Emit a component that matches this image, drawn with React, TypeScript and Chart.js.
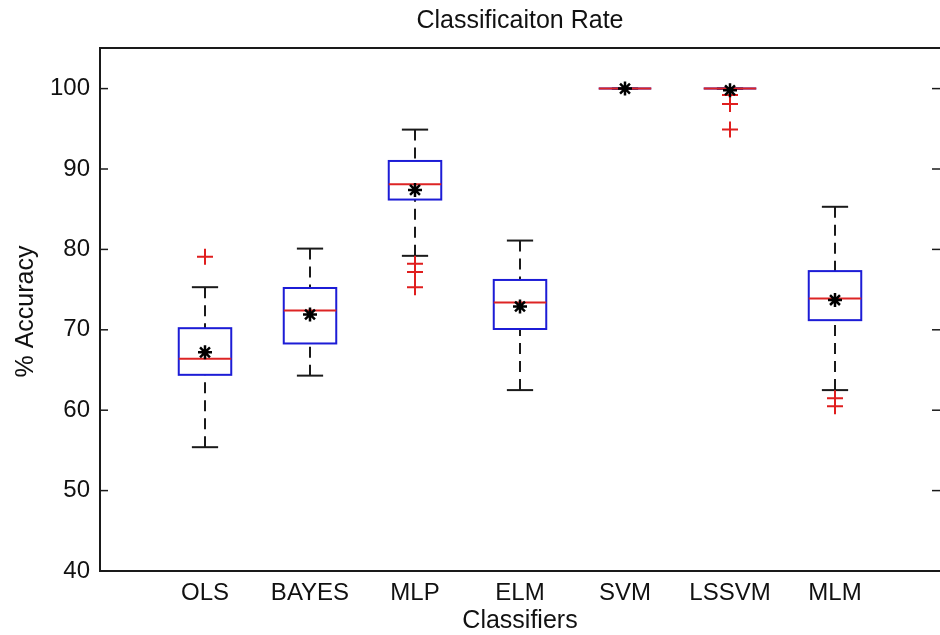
import { useEffect, useRef } from 'react';
import { Chart, registerables } from 'chart.js';

Chart.register(...registerables);

// Box-plot summary of classification accuracy per classifier
const categories = ['OLS', 'BAYES', 'MLP', 'ELM', 'SVM', 'LSSVM', 'MLM'];
const whiskerLow = [55.4, 64.3, 79.2, 62.5, 100, 100, 62.5];
const q1 = [64.4, 68.3, 86.2, 70.1, 100, 100, 71.2];
const medians = [66.4, 72.4, 88.1, 73.4, 100, 100, 73.9];
const q3 = [70.2, 75.2, 91.0, 76.2, 100, 100, 77.3];
const whiskerHigh = [75.3, 80.1, 94.9, 81.1, 100, 100, 85.3];
const means = [67.2, 71.9, 87.4, 72.9, 100, 99.8, 73.7];
const outliers: number[][] = [
  [79.1],
  [],
  [78.2, 77.2, 75.3],
  [],
  [],
  [99.2, 98.1, 94.9],
  [61.5, 60.5],
];
const yTicks = [40, 50, 60, 70, 80, 90, 100];

const FONT = '"Liberation Sans", Arial, Helvetica, sans-serif';
const BOX_HALF = 0.25;
const CAP_HALF = 0.125;

function seg(ctx: CanvasRenderingContext2D, x1: number, y1: number, x2: number, y2: number) {
  ctx.beginPath();
  ctx.moveTo(x1, y1);
  ctx.lineTo(x2, y2);
  ctx.stroke();
}

const boxPlugin = {
  id: 'boxes',
  beforeDatasetsDraw(chart: any) {
    const { ctx, scales } = chart;
    const x = scales.x;
    const y = scales.y;
    ctx.save();
    categories.forEach((_, i) => {
      const pos = i + 1;
      const cx = x.getPixelForValue(pos);
      const bl = x.getPixelForValue(pos - BOX_HALF);
      const br = x.getPixelForValue(pos + BOX_HALF);
      const cl = x.getPixelForValue(pos - CAP_HALF);
      const cr = x.getPixelForValue(pos + CAP_HALF);
      const yLo = y.getPixelForValue(whiskerLow[i]);
      const yQ1 = y.getPixelForValue(q1[i]);
      const yMed = y.getPixelForValue(medians[i]);
      const yQ3 = y.getPixelForValue(q3[i]);
      const yHi = y.getPixelForValue(whiskerHigh[i]);

      // dashed whiskers
      ctx.strokeStyle = '#1a1a1a';
      ctx.lineWidth = 2;
      ctx.setLineDash([11, 7]);
      if (yHi < yQ3) seg(ctx, cx, yHi, cx, yQ3);
      if (yLo > yQ1) seg(ctx, cx, yLo, cx, yQ1);
      ctx.setLineDash([]);
      // whisker caps
      seg(ctx, cl, yHi, cr, yHi);
      seg(ctx, cl, yLo, cr, yLo);

      // box
      ctx.strokeStyle = '#1c1cd6';
      ctx.lineWidth = 2;
      ctx.strokeRect(bl, yQ3, br - bl, yQ1 - yQ3);

      // median
      ctx.strokeStyle = '#dd2424';
      ctx.lineWidth = 2;
      seg(ctx, bl, yMed, br, yMed);
    });
    ctx.restore();
  },
  afterDraw(chart: any) {
    const { ctx, chartArea, scales, width } = chart;
    const y = scales.y;
    const { left, right, top, bottom } = chartArea;
    ctx.save();
    // axes frame: the right edge falls past the visible page width
    ctx.strokeStyle = '#1a1a1a';
    ctx.lineWidth = 2;
    seg(ctx, left, top, width, top);
    seg(ctx, left, bottom, width, bottom);
    seg(ctx, left, top - 1, left, bottom + 1);
    // inward y tick marks on both sides
    ctx.lineWidth = 1.5;
    yTicks.forEach((v) => {
      const py = y.getPixelForValue(v);
      seg(ctx, left, py, left + 8, py);
      seg(ctx, right - 8, py, right, py);
    });

    ctx.fillStyle = '#111';
    ctx.font = `25px ${FONT}`;
    ctx.textAlign = 'center';
    ctx.textBaseline = 'alphabetic';
    const midX = (left + right) / 2;
    ctx.fillText('Classificaiton Rate', midX, 28);
    ctx.fillText('Classifiers', midX, 628);

    ctx.translate(33, (top + bottom) / 2 + 2);
    ctx.rotate(-Math.PI / 2);
    ctx.fillText('% Accuracy', 0, 0);
    ctx.restore();
  },
};

export default function App() {
  const canvasRef = useRef<HTMLCanvasElement | null>(null);

  useEffect(() => {
    const canvas = canvasRef.current;
    if (!canvas) return;
    const chart = new Chart(canvas, {
      type: 'scatter',
      data: {
        datasets: [
          {
            label: 'Mean',
            data: means.map((m, i) => ({ x: i + 1, y: m })),
            pointStyle: 'star',
            radius: 7,
            borderColor: '#000',
            backgroundColor: '#000',
            borderWidth: 2.5,
          },
          {
            label: 'Outliers',
            data: outliers.flatMap((arr, i) => arr.map((v) => ({ x: i + 1, y: v }))),
            pointStyle: 'cross',
            radius: 8,
            borderColor: '#e01e1e',
            backgroundColor: '#e01e1e',
            borderWidth: 2,
          },
        ],
      },
      options: {
        responsive: false,
        animation: false,
        devicePixelRatio: 1,
        layout: { padding: { top: 48, right: 8, left: 0, bottom: 0 } },
        plugins: {
          legend: { display: false },
          tooltip: { enabled: false },
          title: { display: false },
        },
        scales: {
          x: {
            type: 'linear',
            min: 0,
            max: 8,
            grid: { display: false, drawTicks: false },
            border: { display: false },
            afterBuildTicks: (s: any) => {
              s.ticks = categories.map((_, i) => ({ value: i + 1 }));
            },
            afterFit: (s: any) => {
              s.height = 64;
              s.paddingLeft = 0;
              s.paddingRight = 0;
            },
            ticks: {
              padding: 8,
              color: '#111',
              font: { family: FONT, size: 24 },
              callback: (v: any) => categories[Number(v) - 1] ?? '',
            },
          },
          y: {
            type: 'linear',
            min: 40,
            max: 105.05,
            grid: { display: false, drawTicks: false },
            border: { display: false },
            afterBuildTicks: (s: any) => {
              s.ticks = yTicks.map((v) => ({ value: v }));
            },
            afterFit: (s: any) => {
              s.width = 100;
              s.paddingTop = 0;
              s.paddingBottom = 0;
            },
            ticks: {
              padding: 10,
              color: '#111',
              font: { family: FONT, size: 24 },
            },
          },
        },
      },
      plugins: [boxPlugin],
    });
    return () => chart.destroy();
  }, []);

  return (
    <div
      style={{
        position: 'absolute',
        left: 0,
        top: 0,
        width: 940,
        height: 635,
        overflow: 'hidden',
        background: '#fff',
      }}
    >
      <canvas ref={canvasRef} width={950} height={635} style={{ display: 'block' }} />
    </div>
  );
}
